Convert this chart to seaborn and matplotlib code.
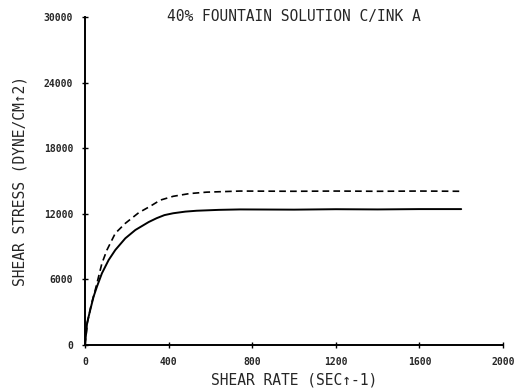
import matplotlib
matplotlib.use("Agg")
import matplotlib.pyplot as plt
import seaborn as sns
import pandas as pd

# Data
shear_rate_solid = [0, 10, 25, 41, 57, 81, 113, 145, 193, 241, 305, 343, 380, 422, 480, 534, 640, 742, 1000, 1200, 1400, 1600, 1800]
stress_solid = [0, 2010, 3200, 4420, 5330, 6560, 7770, 8690, 9760, 10520, 11250, 11600, 11880, 12050, 12200, 12280, 12360, 12400, 12380, 12420, 12400, 12430, 12430]

shear_rate_dashed = [0, 12, 30, 49, 65, 81, 105, 145, 193, 257, 313, 360, 422, 500, 582, 742, 1000, 1200, 1400, 1600, 1800]
stress_dashed = [0, 2100, 3700, 5030, 6250, 7470, 8690, 10220, 11130, 12100, 12700, 13250, 13600, 13850, 13980, 14080, 14060, 14080, 14060, 14080, 14060]

x_ticks = [0, 400, 800, 1200, 1600, 2000]
y_ticks = [0, 6000, 12000, 18000, 24000, 30000]

title = "40% FOUNTAIN SOLUTION C/INK A"
xlabel = "SHEAR RATE (SEC\u2191-1)"
ylabel = "SHEAR STRESS (DYNE/CM\u21912)"

sns.set_style("white")
plt.rcParams['font.family'] = ['DejaVu Sans Mono', 'DejaVu Sans']

fig = plt.figure(figsize=(5.2, 3.89), dpi=100)
ax = fig.add_axes([85/520, 1-345/389, (503-85)/520, (345-17)/389])

df_s = pd.DataFrame({"x": shear_rate_solid, "y": stress_solid})
df_d = pd.DataFrame({"x": shear_rate_dashed, "y": stress_dashed})
sns.lineplot(data=df_s, x="x", y="y", ax=ax, color="black", linewidth=1.4)
sns.lineplot(data=df_d, x="x", y="y", ax=ax, color="black", linewidth=1.2,
             linestyle=(0, (4, 2.5)))

ax.set_xlim(0, 2000)
ax.set_ylim(0, 30000)
ax.set_xticks(x_ticks)
ax.set_yticks(y_ticks)
ax.set_xticklabels([str(v) for v in x_ticks], fontsize=7, fontweight="bold")
ax.set_yticklabels([str(v) for v in y_ticks], fontsize=7, fontweight="bold")
ax.tick_params(axis="both", direction="inout", length=5, width=1, color="black",
               pad=6, bottom=True, left=True)

for s in ["top", "right"]:
    ax.spines[s].set_visible(False)
for s in ["left", "bottom"]:
    ax.spines[s].set_color("black")
    ax.spines[s].set_linewidth(1.4)

ax.set_xlabel(xlabel, fontsize=10.5)
ax.set_ylabel(ylabel, fontsize=10.5, labelpad=12)
ax.xaxis.set_label_coords(0.5, -0.085)
ax.text(0.5, 1.0, title, transform=ax.transAxes, ha="center", va="center", fontsize=10.5)

fig.savefig("out.png", dpi=100)
